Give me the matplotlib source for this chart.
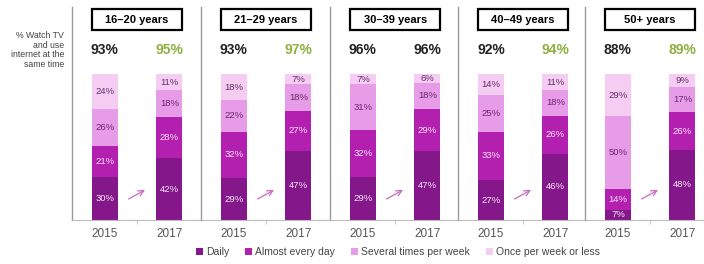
import matplotlib
matplotlib.use("Agg")
import matplotlib.pyplot as plt
import numpy as np
from matplotlib.patches import Rectangle, Patch

plt.rcParams['font.family'] = ['Liberation Sans', 'DejaVu Sans']

# --- data ---
groups = ["16\u201320 years", "21\u201329 years", "30\u201339 years", "40\u201349 years", "50+ years"]
years = ["2015", "2017"]
categories = ["Daily", "Almost every day", "Several times per week", "Once per week or less"]

daily = [[30, 42], [29, 47], [29, 47], [27, 46], [7, 48]]
almost = [[21, 28], [32, 27], [32, 29], [33, 26], [14, 26]]
several = [[26, 18], [22, 18], [31, 18], [25, 18], [50, 17]]
once = [[24, 11], [18, 7], [7, 6], [14, 11], [29, 9]]

totals = [[93, 95], [93, 97], [96, 96], [92, 94], [88, 89]]
total_up = [[False, True], [False, True], [False, False], [False, True], [False, True]]

colors = ["#84178a", "#b31fae", "#e69ce6", "#f5cdf3"]
text_cols = ["#f6e6f6", "#f6e6f6", "#6a2a6a", "#6a2a6a"]

W, H = 704, 264
fig = plt.figure(figsize=(W / 100, H / 100), dpi=100)

panel_left = [72, 201, 330, 458, 585]
panel_w = 128
ax_bottom, ax_top = 220, 7

series = [daily, almost, several, once]
x = np.arange(2)

for g, left in enumerate(panel_left):
    ax = fig.add_axes([left / W, (H - ax_bottom) / H, panel_w / W, (ax_bottom - ax_top) / H])
    ax.set_xlim(-0.51, -0.51 + panel_w / 64.5)
    ax.set_ylim(0, 146)
    # stacks are drawn as shares of 100 so every bar has the same height
    stack_sum = np.array([sum(s[g][i] for s in series) for i in range(2)], dtype=float)
    bottom = np.zeros(2)
    for k, s in enumerate(series):
        vals = np.array(s[g], dtype=float)
        h = vals / stack_sum * 100
        ax.bar(x, h, 0.40, bottom=bottom, color=colors[k], linewidth=0)
        for i in range(2):
            ax.text(x[i], bottom[i] + h[i] / 2, f"{int(vals[i])}%", ha='center', va='center',
                    fontsize=6.8, color=text_cols[k])
        bottom += h

    # totals
    for i in range(2):
        c = "#8db040" if total_up[g][i] else "#222222"
        ax.text(x[i], 116.5, f"{totals[g][i]}%", ha='center', va='center', fontsize=10,
                fontweight='bold', color=c)

    # header box
    ax.add_patch(Rectangle((-0.2, 130), 1.4, 14.5, facecolor='white', edgecolor='black',
                           linewidth=1.6, clip_on=False))
    ax.text(0.5, 137.3, groups[g], ha='center', va='center', fontsize=8, fontweight='bold')

    # arrow
    ax.annotate("", xy=(0.66, 21.5), xytext=(0.33, 13.5),
                arrowprops=dict(arrowstyle='->', color='#c76ac0', lw=0.9))

    for sp in ['top', 'right']:
        ax.spines[sp].set_visible(False)
    ax.spines['left'].set_color('#999999')
    ax.spines['bottom'].set_color('#bbbbbb')
    ax.spines['left'].set_linewidth(1.0)
    ax.set_yticks([])
    ax.set_xticks(x)
    ax.set_xticklabels(years, fontsize=8.5, color='#555555')
    ax.tick_params(axis='x', length=0, pad=6)
    ax.set_xticks([0.5], minor=True)
    ax.tick_params(axis='x', which='minor', length=3, color='#bbbbbb')

fig.text(64 / W, (H - 31) / H, "% Watch TV\nand use\ninternet at the\nsame time", ha='right',
         va='top', fontsize=6.3, color='#444444', linespacing=1.1)

handles = [Patch(facecolor=c, edgecolor='none') for c in colors]
fig.legend(handles, categories, loc='center', bbox_to_anchor=(398 / W, 12 / H), ncol=4,
           frameon=False, fontsize=7.5, handlelength=0.7, handleheight=0.7, handletextpad=0.3,
           columnspacing=1.5, labelcolor='#444444')

fig.savefig("out.png", dpi=100)
